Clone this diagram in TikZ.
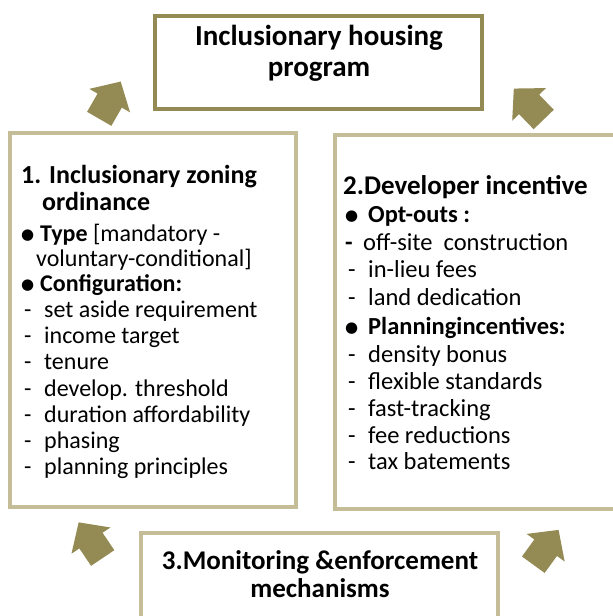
\documentclass[tikz,border=0pt]{standalone}
\usepackage{fontspec}
\setmainfont{Carlito}
\newfontfamily\sym{DejaVu Sans}
\definecolor{olivearrow}{HTML}{948A54}
\definecolor{tanline}{HTML}{C4BD97}
\newcommand{\bul}[1]{\makebox[#1pt][l]{\raisebox{2pt}{\sym\fontsize{15}{15}\selectfont ●}}}
\newcommand{\dsh}[1]{\makebox[#1pt][l]{-}}
\begin{document}
\begin{tikzpicture}[x=1pt,y=-1pt,
  titlebox/.style={draw=olivearrow,line width=4pt,fill=white,minimum width=327pt,minimum height=93pt,inner sep=0pt},
  sidebox/.style={draw=tanline,line width=4pt,fill=white,inner sep=0pt},
  ln/.style={anchor=mid west,inner sep=0pt,font=\fontsize{24}{26}\selectfont},
  rln/.style={anchor=mid west,inner sep=0pt,font=\fontsize{24.5}{26}\selectfont},
  hd/.style={anchor=mid west,inner sep=0pt,font=\fontsize{26}{28}\selectfont\bfseries},
  tt/.style={anchor=mid,inner sep=0pt,font=\fontsize{27}{30}\selectfont\bfseries},
  blockarrow/.style={fill=olivearrow}
]
\clip (0,0) rectangle (613,616);
\fill[white] (0,0) rectangle (613,616);

% boxes
\node[titlebox] (top) at (318.5,62) {};
\node[sidebox,minimum width=286pt,minimum height=374pt] (left) at (153,320) {};
\node[sidebox,minimum width=305pt,minimum height=374pt] (right) at (487.5,322) {};
\node[sidebox,minimum width=357pt,minimum height=117pt] (bottom) at (319.5,591.5) {};

% block arrows
\foreach \tx/\ty/\ang in {99.2/118.8/60, 543.7/119.5/134, 102.7/558/124, 533.3/564.7/54}{
  \fill[blockarrow,shift={(\tx,\ty)},rotate=\ang]
    (0pt,-14pt) -- (21pt,-14pt) -- (21pt,-23.5pt) -- (43pt,0pt) -- (21pt,23.5pt) -- (21pt,14pt) -- (0pt,14pt) -- cycle;
}

% title
\node[tt,font=\fontsize{29}{31}\selectfont\bfseries] (t1) at (319,43) {Inclusionary housing};
\node[tt,font=\fontsize{29}{31}\selectfont\bfseries] (t2) at (319,74) {program};

% left box
\node[hd] (l1) at (21,181) {1. Inclusionary zoning};
\node[hd] (l2) at (42,208) {ordinance};
\node[ln] (l3) at (21,239) {\bul{19}\textbf{Type} [mandatory -};
\node[ln] (l4) at (36,264) {voluntary-conditional]};
\node[ln] (l5) at (21,289) {\bul{19}\textbf{Configuration:}};
\node[ln] (l6) at (24,315) {\dsh{20}set aside requirement};
\node[ln] (l7) at (24,341) {\dsh{20}income target};
\node[ln] (l8) at (24,367) {\dsh{20}tenure};
\node[ln] (l9) at (24,394) {\dsh{20}develop. threshold};
\node[ln] (l10) at (24,420) {\dsh{20}duration affordability};
\node[ln] (l11) at (24,446) {\dsh{20}phasing};
\node[ln] (l12) at (24,472) {\dsh{20}planning principles};

% right box
\node[hd,font=\fontsize{27}{28}\selectfont\bfseries] (r1) at (343,192) {2.Developer incentive};
\node[rln] (r2) at (345,220) {\bul{23}\textbf{Opt-outs :}};
\node[rln] (r3) at (345,248) {\makebox[18pt][l]{\textbf{-}}off-site\ \ construction};
\node[rln] (r4) at (348,275) {\dsh{20}in-lieu fees};
\node[rln] (r5) at (348,303) {\dsh{20}land dedication};
\node[rln] (r6) at (345,332) {\bul{23}\textbf{Planningincentives:}};
\node[rln] (r7) at (348,360) {\dsh{20}density bonus};
\node[rln] (r8) at (348,387) {\dsh{20}flexible standards};
\node[rln] (r9) at (348,414) {\dsh{20}fast-tracking};
\node[rln] (r10) at (348,441) {\dsh{20}fee reductions};
\node[rln] (r11) at (348,467) {\dsh{20}tax batements};

% bottom
\node[tt] (b1) at (320,567) {3.Monitoring \&enforcement};
\node[tt] (b2) at (320,595) {mechanisms};
\end{tikzpicture}
\end{document}
